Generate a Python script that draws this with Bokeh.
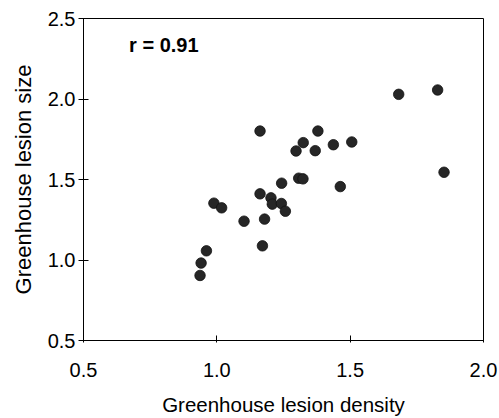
from bokeh.plotting import figure
from bokeh.models import Range1d, FixedTicker, PrintfTickFormatter, Label, ColumnDataSource
from bokeh.embed import file_html
from bokeh.resources import INLINE

# Data
density = [1.682, 1.828, 1.162, 1.379, 1.324, 1.297, 1.369, 1.437, 1.506, 1.852,
           1.307, 1.323, 1.463, 1.243, 1.162, 1.203, 1.208, 1.242, 1.257, 0.989,
           1.018, 1.102, 1.179, 1.171, 0.961, 0.941, 0.937]
size = [2.029, 2.056, 1.801, 1.801, 1.729, 1.677, 1.679, 1.716, 1.733, 1.545,
        1.508, 1.504, 1.456, 1.477, 1.411, 1.386, 1.347, 1.351, 1.303, 1.353,
        1.324, 1.241, 1.254, 1.088, 1.057, 0.981, 0.904]
x_ticks = [0.5, 1.0, 1.5, 2.0]
y_ticks = [0.5, 1.0, 1.5, 2.0, 2.5]
annotation = "r = 0.91"

FONT = "Liberation Sans"

p = figure(width=499, height=418, output_backend="svg", toolbar_location=None,
           x_range=Range1d(0.5, 2.0), y_range=Range1d(0.5, 2.5),
           min_border_left=83, min_border_right=16, min_border_top=18, min_border_bottom=77)
p.background_fill_color = "white"
p.border_fill_color = "white"
p.outline_line_color = "black"
p.outline_line_width = 1
p.grid.visible = False

src = ColumnDataSource(dict(x=density, y=size))
p.scatter("x", "y", source=src, size=10.5, fill_color="#262626", line_color="#111111",
          line_width=0.8)

p.xaxis.ticker = FixedTicker(ticks=x_ticks)
p.yaxis.ticker = FixedTicker(ticks=y_ticks)
for ax in (p.xaxis, p.yaxis):
    ax.formatter = PrintfTickFormatter(format="%.1f")
    ax.minor_tick_line_color = None
    ax.axis_line_color = "black"
    ax.major_tick_line_color = "black"
    ax.major_label_text_font = FONT
    ax.major_label_text_font_size = "20px"
    ax.major_label_text_color = "black"
    ax.axis_label_text_font = FONT
    ax.axis_label_text_font_style = "normal"
    ax.axis_label_text_color = "black"

p.xaxis.axis_label = "Greenhouse lesion density"
p.yaxis.axis_label = "Greenhouse lesion size"
p.xaxis.axis_label_text_font_size = "20.5px"
p.yaxis.axis_label_text_font_size = "22px"
p.xaxis.major_tick_in = 5
p.xaxis.major_tick_out = 2
p.yaxis.major_tick_in = 5
p.yaxis.major_tick_out = 5
p.xaxis.major_label_standoff = 20
p.yaxis.major_label_standoff = 3
p.xaxis.axis_label_standoff = 13
p.yaxis.axis_label_standoff = 9

p.add_layout(Label(x=0.671, y=2.333, text=annotation, text_font=FONT,
                   text_font_size="20px", text_font_style="bold", text_color="black",
                   text_baseline="alphabetic"))

open("out.html", "w").write(file_html(p, INLINE))
